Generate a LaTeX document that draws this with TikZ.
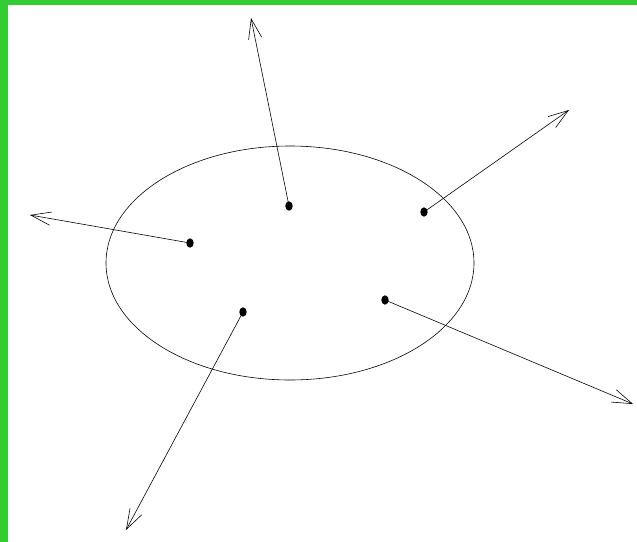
\documentclass[tikz,border=0pt]{standalone}
\usepackage{tikz}
\usetikzlibrary{arrows.meta}
\definecolor{framegreen}{RGB}{51,204,51}
\tikzset{
  ray/.style={line width=.5pt,-{Straight Barb[length=6mm,width=4mm,line width=.5pt]}},
  rim/.style={line width=.5pt}
}
\newcommand{\SourceDot}[1]{\fill (#1) ellipse (1.1mm and 1.4mm);}

\begin{document}
\begin{tikzpicture}[x=0.3mm,y=-0.3mm,line cap=round,line join=round]
  \useasboundingbox (0,0) rectangle (637,542);
  \fill[white] (0,0) rectangle (637,542);
  \fill[framegreen] (0,0) rectangle (637,5);
  \fill[framegreen] (0,0) rectangle (8,542);

  \draw[rim] (290,263) ellipse (184 and 117);

  \coordinate (s1) at (289,206);
  \coordinate (s2) at (424,212);
  \coordinate (s3) at (190,243);
  \coordinate (s4) at (243,312);
  \coordinate (s5) at (385,300);

  \coordinate (t1) at (251,18);
  \coordinate (t2) at (569,110);
  \coordinate (t3) at (30,215);
  \coordinate (t4) at (126,530);
  \coordinate (t5) at (633,404);

  \foreach \i in {1,...,5} {\draw[ray] (s\i) -- (t\i);}
  \foreach \p in {s1,s2,s3,s4,s5} {\SourceDot{\p}}
\end{tikzpicture}
\end{document}
